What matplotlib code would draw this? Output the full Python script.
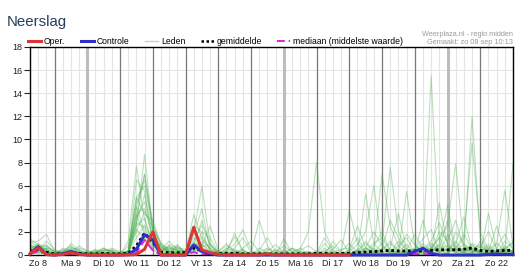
import numpy as np
import matplotlib
matplotlib.use('Agg')
import matplotlib.pyplot as plt
from matplotlib.lines import Line2D

plt.rcParams['font.family'] = ['Liberation Sans', 'DejaVu Sans']

dagen = ['Zo 8', 'Ma 9', 'Di 10', 'Wo 11', 'Do 12', 'Vr 13', 'Za 14', 'Zo 15',
         'Ma 16', 'Di 17', 'Wo 18', 'Do 19', 'Vr 20', 'Za 21', 'Zo 22']
uren = np.arange(6, 361, 6)   # uren vanaf zo 8 00:00, stap 6 uur

oper = [0.1, 0.63, 0.05, 0, 0.05, 0.2, 0.05, 0, 0, 0, 0, 0, 0, 0.05, 0.5, 2.0, 0, 0, 0,
        0, 2.4, 0.45, 0.2, 0.05, 0, 0, 0, 0, 0, 0.1, 0, 0, 0, 0, 0, 0, 0, 0, 0, 0]
controle = [0.1, 0.72, 0.05, 0, 0.1, 0.3, 0.1, 0, 0, 0, 0, 0, 0.05, 0.5, 1.75, 1.3, 0, 0, 0,
            0, 0.87, 0.3, 0.1, 0, 0, 0, 0, 0, 0, 0, 0, 0, 0, 0, 0, 0, 0, 0, 0, 0, 0, 0, 0,
            0, 0, 0, 0, 0.3, 0.58, 0.15, 0, 0, 0, 0, 0, 0, 0.05, 0.08, 0.05, 0.05]
gemiddelde = [0.3, 0.5, 0.25, 0.1, 0.1, 0.2, 0.15, 0.1, 0.1, 0.15, 0.1, 0.1, 0.15, 0.8, 1.9,
              1.1, 0.25, 0.2, 0.2, 0.2, 0.6, 0.35, 0.15, 0.1, 0.15, 0.15, 0.1, 0.1, 0.1, 0.1, 0.1,
              0.1, 0.1, 0.1, 0.1, 0.15, 0.15, 0.1, 0.15, 0.15, 0.2, 0.25, 0.3, 0.35, 0.4, 0.35, 0.35,
              0.35, 0.35, 0.4, 0.45, 0.45, 0.45, 0.5, 0.6, 0.4, 0.3, 0.35, 0.4, 0.4]
mediaan = [0.1, 0.3, 0.1, 0, 0, 0.05, 0, 0, 0, 0, 0, 0, 0, 0.2, 1.3, 0.4, 0, 0, 0,
           0, 0.25, 0.05, 0, 0, 0, 0, 0, 0, 0, 0, 0, 0, 0, 0, 0, 0, 0, 0, 0, 0, 0, 0, 0,
           0, 0, 0, 0, 0.05, 0.15, 0.05, 0, 0, 0, 0, 0, 0, 0, 0, 0, 0]

leden = [
    [1.4, 0.9, 0.3, 0.1, 0.2, 0.5, 0.2, 0, 0.1, 0.2, 0.1, 0, 0.3, 2.5, 8.7, 2.0, 0.5, 0.3, 0.2, 0.1, 1.0, 0.6, 0.2, 0, 0, 0.3, 0.1, 0, 0, 0, 0, 0, 0.2, 0.6, 0.1, 0, 0, 0.3, 0, 0, 0.4, 1.2, 0.3, 0, 0.2, 0.8, 1.5, 0.2, 0.5, 15.5, 1.2, 0.3, 0.8, 0.2, 0.5, 0.1, 0.4, 0.2, 0.3, 0.2],
    [1.1, 1.2, 1.8, 0.3, 0.1, 1.0, 0.4, 0.1, 0.3, 0.4, 0.2, 0, 1.2, 7.7, 3.0, 1.0, 0.4, 0.2, 0.8, 0.3, 2.0, 5.9, 1.0, 0.2, 0.1, 0, 0.4, 0.1, 3.0, 0.8, 0, 0, 0, 0, 0.3, 0.1, 0, 0, 0, 0.2, 0, 0.6, 2.0, 0.8, 0.3, 0, 0.1, 0, 0.5, 1.2, 2.8, 1.0, 0.3, 0.6, 12.0, 1.5, 0.4, 0.2, 0.8, 0.3],
    [0.6, 0.8, 0.5, 0, 0, 0.2, 0.8, 0.3, 0.1, 0.6, 0.3, 0.1, 0.8, 4.5, 6.5, 2.6, 0.8, 0.6, 0.4, 0.2, 3.5, 1.4, 0.5, 0, 0.2, 1.9, 0.4, 0, 0.1, 0, 0.2, 0.8, 0.3, 0.5, 2.0, 8.0, 2.0, 0.5, 0, 0, 0.3, 0.1, 0, 0.6, 3.0, 1.5, 0.3, 0.1, 0.4, 0.2, 0.8, 0, 2.0, 1.0, 0.4, 0.2, 0.1, 1.0, 0.4, 1.2],
    [0.9, 0.5, 0.2, 0.1, 0.5, 0.3, 0, 0, 0, 0.1, 0.5, 0.2, 0.3, 5.0, 6.0, 2.2, 1.1, 0.3, 0.1, 0, 0.8, 3.0, 0.8, 0.3, 1.0, 0.2, 0, 0, 0, 0.5, 0.1, 0, 0, 0, 0, 0.2, 0, 1.2, 0.3, 3.9, 1.0, 0.2, 0.5, 7.0, 2.5, 0.8, 0.2, 0, 0.3, 0.6, 0.2, 1.8, 0.5, 0.3, 1.0, 0.6, 2.0, 0.5, 0.2, 0.4],
    [0.3, 0.6, 0.9, 0.2, 0.3, 0.1, 0.2, 0.2, 0.4, 0, 0, 0, 0.3, 3.6, 4.0, 1.5, 0.2, 0.8, 0.3, 0.1, 2.5, 2.0, 0.3, 0, 0.5, 0.9, 2.2, 0.4, 0, 0.2, 0, 0.3, 0.1, 0, 0, 0, 0.4, 0, 0.1, 0.3, 0.9, 2.0, 6.0, 0.9, 0.1, 0.3, 0.2, 0.4, 1.0, 0.3, 4.5, 0.8, 0.2, 0.6, 0.3, 0.4, 0.5, 1.0, 5.6, 0.8],
    [0.5, 1.0, 0.4, 0, 0.6, 0.4, 0.1, 0.1, 0.2, 0.3, 0.6, 0.3, 0.2, 6.5, 5.5, 0.8, 0.5, 1.2, 0.4, 0.2, 1.5, 0.8, 2.5, 0.4, 0, 0.1, 0.6, 1.2, 0.3, 0, 0, 0, 0.6, 0.2, 0, 0.1, 1.0, 0.2, 0, 0, 0.5, 0.3, 0.2, 1.0, 7.6, 2.0, 0.5, 0.3, 0.8, 0.2, 1.0, 4.3, 0.5, 0.2, 0.8, 0.3, 0.1, 0.4, 0.6, 0.2],
    [0.2, 0.4, 1.2, 0.5, 0.2, 0.6, 0.3, 0, 0, 0.2, 0.1, 0.2, 0.3, 5.0, 3.5, 3.0, 0.9, 0.2, 0.6, 0.5, 0.4, 2.0, 1.5, 0.2, 0.1, 0.5, 0, 0, 0.4, 1.5, 0.3, 0, 0, 0.4, 0.8, 0.3, 0, 0.5, 1.3, 0.2, 0, 0.4, 1.0, 0.2, 0.6, 3.6, 0.5, 0.2, 0.2, 0.6, 1.5, 2.5, 7.9, 0.8, 0.3, 0.5, 0.3, 0.2, 1.2, 0.6],
    [0.8, 0.3, 0.6, 0.1, 0, 0.1, 0.5, 0.2, 0.5, 0.1, 0, 0, 0.2, 3.0, 7.0, 2.2, 0.3, 0.5, 0.9, 0.1, 0.3, 0.5, 0.2, 0.1, 0.6, 0.3, 0.2, 0, 0.6, 0.2, 0, 1.4, 0.2, 0, 0.3, 0, 0.2, 0, 0.3, 1.0, 0.2, 5.3, 1.0, 1.5, 0.4, 0.2, 5.5, 0.8, 0.3, 0.6, 0.2, 0.5, 1.0, 3.3, 0.4, 0.2, 3.6, 0.5, 0.3, 7.9],
    [1.2, 0.7, 0.2, 0, 0.3, 0.8, 0.2, 0.3, 0.2, 0.5, 0.3, 0.1, 0.4, 4.0, 7.0, 2.8, 0.6, 0.4, 0.2, 0, 1.8, 4.0, 0.4, 0, 0.3, 0.6, 1.5, 0.2, 0, 0, 0.5, 0.1, 0, 0.2, 0.1, 0, 0.6, 0.1, 0, 0.5, 2.5, 0.6, 0.3, 0.4, 1.0, 0.3, 0.9, 0.2, 3.0, 0.5, 1.5, 0.6, 0.4, 1.5, 9.7, 2.0, 0.5, 0.3, 0.6, 1.0],
    [0.4, 0.2, 0.1, 0.2, 0.4, 0.3, 0.1, 0, 0.3, 0.6, 0.2, 0.2, 0.1, 2.5, 3.2, 0.9, 0.7, 0.3, 0.5, 0.3, 0.6, 1.2, 0.6, 0.2, 0.4, 1.6, 0.3, 0.1, 0.2, 0.6, 0.2, 0, 0.3, 0.1, 0, 0.2, 1.5, 0.3, 0.1, 0.4, 1.5, 0.2, 0.8, 2.0, 0.3, 0.5, 1.8, 0.9, 0.2, 0.4, 2.0, 1.2, 3.0, 0.6, 0.2, 0.8, 0.3, 2.5, 0.4, 0.3],
    [0.7, 0.4, 0.8, 0.3, 0.2, 0, 0.3, 0.1, 0, 0, 0.4, 0, 0.2, 2.8, 5.2, 1.8, 0.4, 0.6, 0.2, 0.4, 1.2, 2.6, 1.0, 0.1, 0, 0.2, 0.5, 0, 0, 0.3, 0.9, 0.2, 0.5, 0.1, 0, 0, 0.3, 0.8, 0.2, 0.1, 0.3, 1.0, 0.4, 0.2, 0.5, 0.2, 0.4, 1.8, 0.5, 0.3, 0.6, 3.0, 0.4, 0.9, 0.3, 0.3, 0.7, 0.2, 0.4, 0.2],
    [0.5, 0.3, 0.4, 0, 0.1, 0.5, 0.6, 0.4, 0.1, 0.2, 0.1, 0.1, 0.2, 4.2, 2.0, 0.7, 0.3, 0.9, 0.6, 0.2, 0.9, 0.4, 0.3, 0, 0.2, 0.1, 0.2, 0, 0.1, 0, 0, 0.5, 0, 0.3, 0.2, 0, 0, 0.2, 0.5, 0.6, 0, 0.2, 0.1, 0.3, 0.2, 1.2, 0.4, 0.5, 1.4, 2.2, 0.3, 0.2, 0.6, 1.8, 0.5, 0.9, 0.2, 0.6, 1.8, 0.5],
    [0.3, 0.5, 0.2, 0.1, 0.2, 0.2, 0, 0, 0.1, 0.3, 0, 0, 0.1, 2.2, 1.4, 0.5, 0.2, 0.1, 0.3, 0, 0.5, 0.9, 0.2, 0, 0.1, 0, 0, 0.3, 0, 0, 0.1, 0, 0, 0.2, 0, 0.1, 0, 0, 0, 0, 0.2, 0, 0.6, 0.1, 0, 0.4, 0.2, 0, 0.3, 0.8, 0.4, 0.5, 0.2, 0.4, 0.9, 0.2, 0.1, 0.3, 0.2, 0.1],
    [0.1, 0.2, 0.6, 0.4, 0, 0.3, 0.2, 0.1, 0.2, 0, 0.3, 0, 0.1, 1.5, 2.6, 1.1, 0.8, 0.2, 0.1, 0, 0.2, 1.6, 0.5, 0.2, 0, 0.3, 0.1, 0, 0.2, 0.1, 0, 0, 0.1, 0, 0, 0, 0.2, 0.1, 0, 0.2, 0, 0.5, 0.2, 0, 0.3, 0.1, 0, 0.2, 0, 0.4, 0.9, 0.3, 1.2, 0.2, 0.1, 1.2, 0.3, 0.1, 0.4, 0.2],
    [0.2, 0.1, 0.3, 0, 0.1, 0, 0.1, 0, 0, 0.1, 0, 0.1, 0, 3.5, 1.8, 0.4, 0.1, 0.3, 0.2, 0.1, 0.7, 0.3, 0.1, 0, 0, 0, 0.1, 0, 0, 0, 0, 0, 0, 0, 0.1, 0, 0, 0, 0, 0, 0, 0.1, 0, 0, 0.1, 0, 0.3, 0, 0.1, 0, 0.2, 0.1, 0, 0.3, 0.1, 0, 0.2, 0, 0.1, 0],
    [0.9, 0.6, 0.5, 0.2, 0.3, 0.7, 0.4, 0.1, 0.4, 0.2, 0.1, 0, 0.4, 3.3, 4.6, 1.4, 0.5, 0.7, 0.4, 0.3, 1.1, 0.7, 0.9, 0.1, 0.3, 0.1, 0, 0, 0.1, 0.2, 0, 0.1, 0, 0, 0.2, 0, 0, 0, 0.2, 0.1, 0.4, 0.2, 0, 0.6, 0.2, 0.1, 0.3, 0.1, 0.6, 0.2, 0.3, 0.4, 0.2, 0.2, 0.6, 0.1, 0.5, 0.3, 0.2, 0.3],
    [0.6, 0.3, 0.1, 0, 0, 0.1, 0.2, 0.2, 0, 0, 0.1, 0, 0.2, 2.0, 3.8, 2.4, 0.2, 0.1, 0, 0, 0.4, 0.2, 0.1, 0, 0, 0, 0, 0, 0, 0.1, 0, 0, 0, 0, 0, 0, 0, 0, 0.1, 0, 0.1, 0, 0.2, 0.2, 0, 0.2, 0.1, 0, 0.2, 0.1, 0, 0.2, 0.5, 0.1, 0.2, 0.3, 0, 0.1, 0.2, 0.1],
    [0.4, 0.9, 0.7, 0.3, 0.1, 0.4, 0, 0, 0.2, 0.4, 0.4, 0.2, 0.3, 2.8, 2.4, 0.6, 1.0, 0.4, 0.7, 0.2, 0.3, 1.0, 0.3, 0.3, 0.8, 0.4, 0.2, 0, 0.3, 0, 0.4, 0.2, 0.6, 0.3, 0, 0.4, 0, 0.2, 0, 0, 0.3, 0.6, 0.2, 0.5, 1.2, 0.4, 0.2, 0.6, 0.4, 1.0, 0.5, 0.8, 0.3, 0.5, 0.2, 0.4, 0.9, 0.2, 0.5, 0.3],
]

W, H = 524, 268
fig = plt.figure(figsize=(W / 100, H / 100), dpi=100)
ax = fig.add_axes([30 / W, 13 / H, 483 / W, 208 / H])

# raster
for y in range(2, 18, 2):
    ax.axhline(y, color='#e4e4e4', lw=0.8, zorder=0)
for u in uren:
    ax.axvline(u, color='#e4e4e4', lw=0.8, zorder=0)
for d in range(24, 360, 24):
    if d in (48, 192, 312):
        ax.axvline(d, color='#bdbdbd', lw=2.2, zorder=0.5)
    else:
        ax.axvline(d, color='#7a7a7a', lw=0.9, zorder=0.5)

for lid in leden:
    ax.plot(uren, lid, color='#4caf50', alpha=0.38, lw=0.8, zorder=1)

ax.plot(uren, mediaan, color='#e020e0', lw=1.4, ls=(0, (4, 2)), zorder=2)
ax.plot(uren, gemiddelde, color='black', lw=2.0, ls=(0, (1, 1)), zorder=3)
ax.plot(uren, controle, color='#3030c8', lw=2.2, zorder=4, clip_on=False)
ax.plot(uren[:len(oper)], oper, color='#d93636', lw=2.2, zorder=5, clip_on=False)

ax.set_xlim(6, 360)
ax.set_ylim(0, 18)
ax.set_yticks(range(0, 19, 2))
ax.set_xticks(np.arange(12, 360, 24))
ax.set_xticklabels(dagen)
ax.tick_params(axis='y', labelsize=6.5, length=4, width=0.8, pad=1.5, colors='#222222')
ax.tick_params(axis='x', labelsize=6.5, length=0, pad=3, colors='#222222')
for s in ax.spines.values():
    s.set_linewidth(1)
    s.set_color('black')

fig.text(7 / W, 1 - 26 / H, 'Neerslag', fontsize=10.8, color='#253f5b',
         va='baseline', ha='left')
fig.text(513 / W, 1 - 34 / H, 'Weerplaza.nl - regio midden', fontsize=5.3,
         color='#9a9a9a', ha='right', va='center')
fig.text(513 / W, 1 - 42 / H, 'Gemaakt: zo 08 sep 10:13', fontsize=5.3,
         color='#9a9a9a', ha='right', va='center')

handles = [
    Line2D([], [], color='#d93636', lw=2.2),
    Line2D([], [], color='#3030c8', lw=2.2),
    Line2D([], [], color='#b8dcb4', lw=1),
    Line2D([], [], color='black', lw=1.8, ls=(0, (1, 1))),
    Line2D([], [], color='#e020e0', lw=1.4, ls=(0, (4, 2))),
]
labels = ['Oper.', 'Controle', 'Leden', 'gemiddelde', 'mediaan (middelste waarde)']
fig.legend(handles, labels, loc='center left', bbox_to_anchor=(28 / W, 1 - 42 / H),
           ncol=5, frameon=False, fontsize=6.2, handlelength=1.5, handletextpad=0.35,
           columnspacing=1.8, borderpad=0, borderaxespad=0)

fig.savefig('out.png', dpi=100)
